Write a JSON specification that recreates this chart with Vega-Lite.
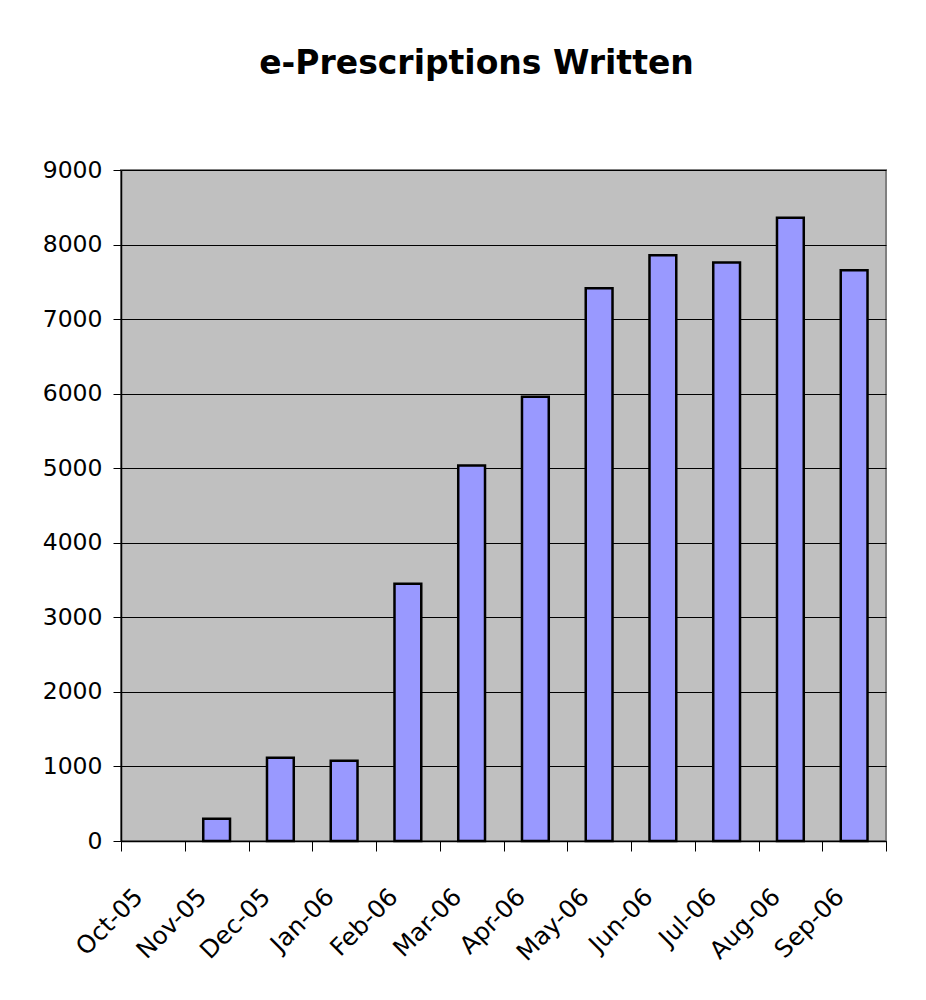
{
  "$schema": "https://vega.github.io/schema/vega-lite/v6.json",
  "autosize": "none",
  "width": 765,
  "height": 671,
  "padding": {"left": 121, "top": 170, "right": 40, "bottom": 159},
  "background": "white",
  "title": {
    "text": "e-Prescriptions Written",
    "font": "DejaVu Sans",
    "fontSize": 33,
    "fontWeight": "bold",
    "color": "black",
    "anchor": "middle",
    "frame": "group",
    "dx": -27,
    "dy": 3,
    "offset": 80
  },
  "config": {
    "view": {"fill": "#C0C0C0", "stroke": "#808080", "strokeWidth": 2},
    "axis": {
      "labelFont": "DejaVu Sans",
      "labelFontSize": 23.5,
      "labelColor": "black",
      "domainColor": "black",
      "tickColor": "black"
    }
  },
  "data": {
    "values": [
      {"month": "Oct-05", "count": null},
      {"month": "Nov-05", "count": 300},
      {"month": "Dec-05", "count": 1115},
      {"month": "Jan-06", "count": 1075},
      {"month": "Feb-06", "count": 3450},
      {"month": "Mar-06", "count": 5035},
      {"month": "Apr-06", "count": 5960},
      {"month": "May-06", "count": 7415},
      {"month": "Jun-06", "count": 7855},
      {"month": "Jul-06", "count": 7760},
      {"month": "Aug-06", "count": 8360},
      {"month": "Sep-06", "count": 7655}
    ]
  },
  "mark": {"type": "bar", "fill": "#9999FF", "stroke": "black", "strokeWidth": 2.5, "width": {"band": 0.42}},
  "encoding": {
    "x": {
      "field": "month",
      "type": "nominal",
      "sort": null,
      "scale": {
        "domain": ["Oct-05","Nov-05","Dec-05","Jan-06","Feb-06","Mar-06","Apr-06","May-06","Jun-06","Jul-06","Aug-06","Sep-06"],
        "paddingInner": 0,
        "paddingOuter": 0
      },
      "axis": {
        "title": null,
        "labelAngle": -45,
        "labelAlign": "right",
        "labelBaseline": "middle",
        "labelFontSize": 24.5,
        "labelPadding": 42,
        "labelOffset": -14,
        "tickBand": "extent",
        "tickSize": 10,
        "tickWidth": 1,
        "domainWidth": 1.5,
        "grid": false
      }
    },
    "y": {
      "field": "count",
      "type": "quantitative",
      "scale": {"domain": [0, 9000], "nice": false},
      "axis": {
        "title": null,
        "values": [0,1000,2000,3000,4000,5000,6000,7000,8000,9000],
        "format": "d",
        "grid": true,
        "gridColor": "black",
        "gridWidth": 1,
        "gridOpacity": 1,
        "tickSize": 8,
        "tickWidth": 1,
        "domainWidth": 1.5,
        "labelPadding": 11
      }
    }
  }
}
